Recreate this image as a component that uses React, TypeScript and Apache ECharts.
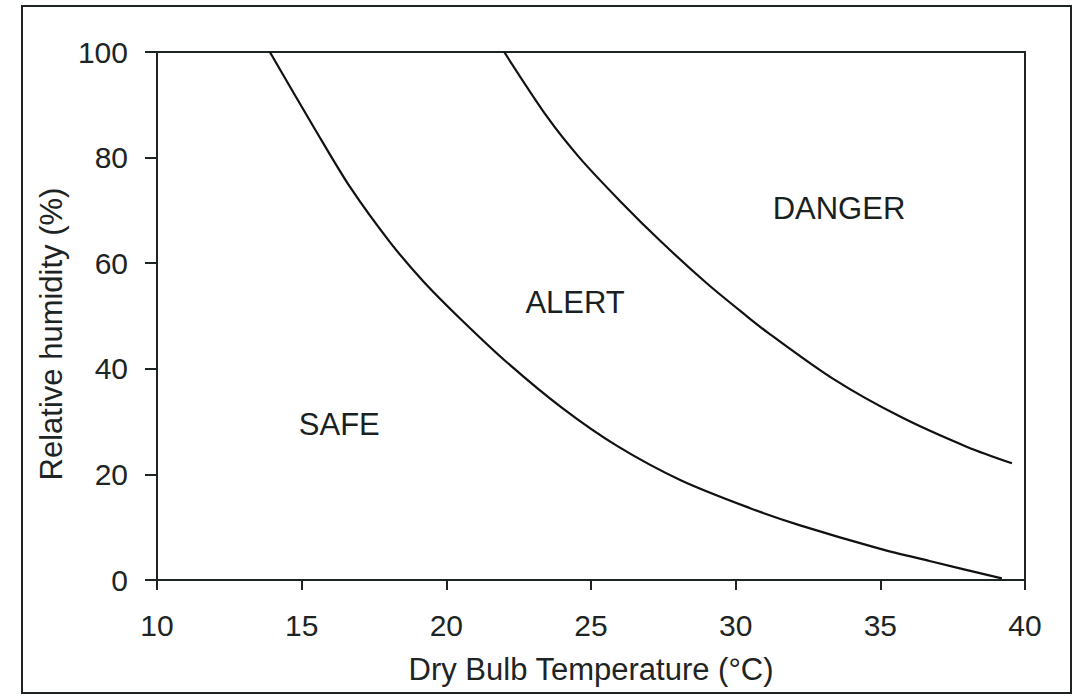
import React, { useEffect, useRef } from "react";
import * as echarts from "echarts";

const xTicks = { min: 10, max: 40, interval: 5 };
const yTicks = { min: 0, max: 100, interval: 20 };

const safeAlertBoundary: [number, number][] = [
  [13.9, 100], [15.5, 85.0], [16.7, 74.2], [18.05, 64.0], [19.2, 56.6],
  [20.5, 49.4], [22.1, 41.2], [24.0, 32.6], [25.9, 25.4], [28.1, 18.9],
  [30.5, 13.6], [32.2, 10.4], [35.0, 5.9], [36.7, 3.6], [39.2, 0.3],
];

const alertDangerBoundary: [number, number][] = [
  [22.0, 100], [23.5, 87.6], [24.6, 80.0], [26.0, 71.8], [27.4, 64.2],
  [29.0, 56.2], [30.4, 49.9], [31.1, 46.9], [33.4, 38.0], [35.7, 30.9],
  [38.0, 25.2], [39.55, 22.1],
];

const zoneNames = ["SAFE", "ALERT", "DANGER"];
const zonePositions: [number, number][] = [[16.3, 29.5], [24.45, 52.6], [33.57, 70.4]];

const xName = "Dry Bulb Temperature (°C)";
const yName = "Relative humidity (%)";

const FONT = "'Liberation Sans', Arial, Helvetica, sans-serif";
const INK = "#1e2424";

export default function App() {
  const ref = useRef<HTMLDivElement>(null);
  useEffect(() => {
    if (!ref.current) return;
    const chart = echarts.init(ref.current, null, { renderer: "svg" });
    chart.setOption({
      animation: false,
      backgroundColor: "#ffffff",
      grid: {
        left: 157,
        right: 56,
        top: 52,
        bottom: 118,
        show: true,
        borderColor: INK,
        borderWidth: 2,
        backgroundColor: "transparent",
      },
      xAxis: {
        type: "value",
        min: xTicks.min,
        max: xTicks.max,
        interval: xTicks.interval,
        name: xName,
        nameLocation: "middle",
        nameGap: 74,
        nameTextStyle: { fontFamily: FONT, fontSize: 31, color: INK },
        axisLine: { show: true, lineStyle: { color: INK, width: 2 } },
        axisTick: { show: true, inside: false, length: 10, lineStyle: { color: INK, width: 2 } },
        axisLabel: { fontFamily: FONT, fontSize: 30, color: INK, margin: 30 },
        splitLine: { show: false },
      },
      yAxis: {
        type: "value",
        min: yTicks.min,
        max: yTicks.max,
        interval: yTicks.interval,
        axisLine: { show: true, lineStyle: { color: INK, width: 2 } },
        axisTick: { show: true, inside: false, length: 12, lineStyle: { color: INK, width: 2 } },
        axisLabel: { fontFamily: FONT, fontSize: 30, color: INK, margin: 29 },
        splitLine: { show: false },
      },
      graphic: [
        {
          type: "rect",
          shape: { x: 22, y: 6, width: 1049, height: 687 },
          style: { fill: "none", stroke: INK, lineWidth: 2 },
          silent: true,
          z: 10,
        },
        {
          type: "text",
          x: 51,
          y: 334,
          rotation: Math.PI / 2,
          style: {
            text: yName,
            fontFamily: FONT,
            fontSize: 31,
            fill: INK,
            align: "center",
            verticalAlign: "middle",
          },
        },
      ],
      series: [
        {
          type: "line",
          data: safeAlertBoundary,
          smooth: 0.3,
          showSymbol: false,
          symbol: "none",
          lineStyle: { color: "#111111", width: 2.2 },
          silent: true,
        },
        {
          type: "line",
          data: alertDangerBoundary,
          smooth: 0.3,
          showSymbol: false,
          symbol: "none",
          lineStyle: { color: "#111111", width: 2.2 },
          silent: true,
        },
        {
          type: "scatter",
          data: zonePositions.map((p, i) => ({ value: p, name: zoneNames[i] })),
          symbolSize: 0,
          silent: true,
          itemStyle: { color: INK, opacity: 1 },
          label: {
            show: true,
            position: "inside",
            formatter: (p: any) => p.name,
            fontFamily: FONT,
            fontSize: 31,
            color: "#1a1f1f",
            opacity: 1,
            textBorderWidth: 0,
          },
        },
      ],
    });
    return () => chart.dispose();
  }, []);
  return (
    <div
      ref={ref}
      style={{ position: "fixed", left: 0, top: 0, width: 1081, height: 698, background: "#fff" }}
    />
  );
}
